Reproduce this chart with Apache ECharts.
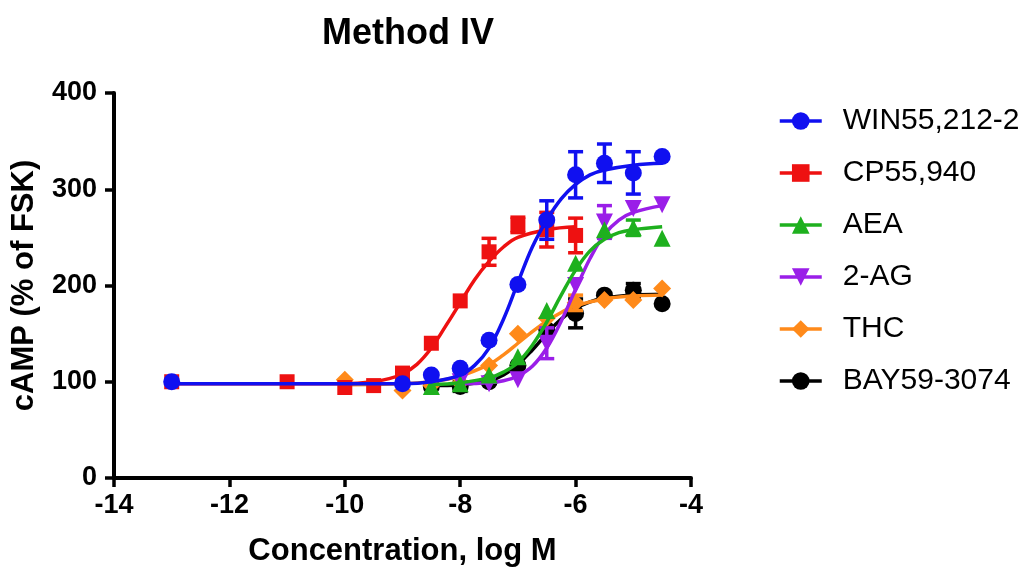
<!DOCTYPE html>
<html>
<head>
<meta charset="utf-8">
<script src="https://cdn.jsdelivr.net/npm/echarts@6/dist/echarts.min.js"></script>
<style>
  html, body { margin: 0; padding: 0; background: #fff; }
  #chart { width: 1032px; height: 572px; }
</style>
</head>
<body>
<div id="chart"></div>
<script>
// measured points (log M, % of FSK) and SEM
var names = ['WIN55,212-2', 'CP55,940', 'AEA', '2-AG', 'THC', 'BAY59-3074'];
var colors = ['#1010f0', '#ee1111', '#1eb01e', '#9a1ee8', '#ff8a1a', '#000000'];
var symbols = ['circle', 'rect', 'triangle', 'triangle', 'diamond', 'circle'];

var xWIN = [-13, -9, -8.5, -8, -7.5, -7, -6.5, -6, -5.5, -5, -4.5];
var yWIN = [100, 98, 107, 114, 143, 201, 268, 315, 327, 317, 334];
var semWIN = [0, 0, 0, 0, 0, 0, 20, 24, 20, 22, 0];

var xCP = [-13, -11, -10, -9.5, -9, -8.5, -8, -7.5, -7, -6.5, -6];
var yCP = [100, 100, 94, 96, 109, 140, 184, 235, 263, 258, 252];
var semCP = [0, 0, 0, 0, 0, 0, 0, 14, 8, 18, 18];

var xAEA = [-8.5, -8, -7.5, -7, -6.5, -6, -5.5, -5, -4.5];
var yAEA = [95, 98, 107, 126, 174, 223, 258, 260, 249];
var semAEA = [0, 0, 0, 0, 0, 0, 0, 8, 0];

var x2AG = [-8, -7.5, -7, -6.5, -6, -5.5, -5, -4.5];
var y2AG = [100, 98, 102, 140, 200, 266, 280, 284];
var sem2AG = [0, 0, 0, 16, 0, 17, 0, 0];

var xTHC = [-10, -9, -8.5, -8, -7.5, -7, -6.5, -6, -5.5, -5, -4.5];
var yTHC = [102, 91, 96, 99, 117, 150, 166, 182, 185, 185, 197];
var semTHC = [0, 0, 0, 0, 0, 0, 0, 8, 0, 0, 0];

var xBAY = [-8.5, -8, -7.5, -7, -6.5, -6, -5.5, -5, -4.5];
var yBAY = [95, 95, 100, 117, 154, 171, 190, 195, 181];
var semBAY = [0, 5, 0, 0, 0, 15, 0, 7, 0];

// fitted curves
var cxWIN = [-13, -9, -8.5, -8, -7.75, -7.5, -7.25, -7, -6.75, -6.5, -6.25, -6, -5.75, -5.5, -5, -4.5];
var cyWIN = [98, 98, 100, 107, 117, 135, 165, 203, 240, 268, 290, 305, 315, 320, 325, 327];
var cxCP = [-13, -10, -9.5, -9.25, -9, -8.75, -8.5, -8.25, -8, -7.75, -7.5, -7.25, -7, -6.5, -6];
var cyCP = [98, 98, 100, 103, 108, 118, 135, 158, 182, 206, 225, 240, 250, 258, 261];
var cxAEA = [-8.5, -8, -7.5, -7.25, -7, -6.75, -6.5, -6.25, -6, -5.75, -5.5, -5.25, -5, -4.5];
var cyAEA = [97, 99, 104, 110, 120, 138, 162, 190, 216, 236, 248, 255, 258, 261];
var cx2AG = [-8, -7.5, -7.25, -7, -6.75, -6.5, -6.25, -6, -5.75, -5.5, -5.25, -5, -4.5];
var cy2AG = [98, 99, 101, 106, 116, 135, 163, 196, 228, 253, 268, 276, 283];
var cxTHC = [-10, -9, -8.5, -8, -7.5, -7.25, -7, -6.75, -6.5, -6.25, -6, -5.5, -5, -4.5];
var cyTHC = [97, 98, 100, 106, 118, 128, 140, 152, 163, 172, 179, 186, 189, 190];
var cxBAY = [-8.5, -8, -7.5, -7.25, -7, -6.75, -6.5, -6.25, -6, -5.75, -5.5, -5, -4.5];
var cyBAY = [96, 97, 101, 107, 118, 133, 150, 165, 176, 183, 187, 190, 191];

var pointX = [xWIN, xCP, xAEA, x2AG, xTHC, xBAY];
var pointY = [yWIN, yCP, yAEA, y2AG, yTHC, yBAY];
var pointSem = [semWIN, semCP, semAEA, sem2AG, semTHC, semBAY];
var curveX = [cxWIN, cxCP, cxAEA, cx2AG, cxTHC, cxBAY];
var curveY = [cyWIN, cyCP, cyAEA, cy2AG, cyTHC, cyBAY];
var symbolSizes = [17, 15, 17, 17, 18, 17];

var font = '"Liberation Sans", Arial, sans-serif';

function zip(a, b) {
    return a.map(function (v, i) { return [v, b[i]]; });
}

var series = [];
names.forEach(function (name, i) {
    series.push({
        name: name,
        type: 'line',
        data: zip(curveX[i], curveY[i]),
        smooth: 0.4,
        showSymbol: false,
        symbol: symbols[i],
        symbolRotate: i === 3 ? 180 : 0,
        symbolSize: symbolSizes[i],
        lineStyle: { color: colors[i], width: 3.5 },
        itemStyle: { color: colors[i] },
        z: 20 - i * 2
    });
});
names.forEach(function (name, i) {
    var z = 20 - i * 2;
    var errData = [];
    pointX[i].forEach(function (x, k) {
        if (pointSem[i][k] > 0) {
            errData.push([x, pointY[i][k] - pointSem[i][k], pointY[i][k] + pointSem[i][k]]);
        }
    });
    series.push({
        name: name + ' sem',
        type: 'custom',
        data: errData,
        encode: { x: 0, y: [1, 2] },
        renderItem: function (params, api) {
            var x = api.value(0);
            var lo = api.coord([x, api.value(1)]);
            var hi = api.coord([x, api.value(2)]);
            var w = 7.5;
            var st = { stroke: colors[i], lineWidth: 3.5 };
            return {
                type: 'group',
                children: [
                    { type: 'line', shape: { x1: lo[0], y1: lo[1], x2: hi[0], y2: hi[1] }, style: st },
                    { type: 'line', shape: { x1: lo[0] - w, y1: lo[1], x2: lo[0] + w, y2: lo[1] }, style: st },
                    { type: 'line', shape: { x1: hi[0] - w, y1: hi[1], x2: hi[0] + w, y2: hi[1] }, style: st }
                ]
            };
        },
        z: z + 1
    });
    series.push({
        name: name,
        type: 'scatter',
        data: zip(pointX[i], pointY[i]),
        symbol: symbols[i],
        symbolRotate: i === 3 ? 180 : 0,
        symbolSize: symbolSizes[i],
        itemStyle: { color: colors[i], opacity: 1 },
        z: z + 1
    });
});

var chart = echarts.init(document.getElementById('chart'));
var option = {
    animation: false,
    backgroundColor: '#fff',
    title: {
        text: 'Method IV',
        left: 403,
        top: 11,
        textAlign: 'center',
        textStyle: { fontFamily: font, fontSize: 36, fontWeight: 'bold', color: '#000' }
    },
    legend: {
        orient: 'vertical',
        left: 773,
        top: 100,
        itemWidth: 42,
        itemHeight: 22,
        itemGap: 20,
        data: names,
        lineStyle: { width: 3.5 },
        textStyle: { fontFamily: font, fontSize: 30, color: '#000', lineHeight: 32, padding: [0, 0, 0, 16] }
    },
    grid: { left: 114, right: 341, top: 93, bottom: 94, containLabel: false },
    xAxis: {
        type: 'value',
        min: -14,
        max: -4,
        interval: 2,
        name: 'Concentration, log M',
        nameLocation: 'middle',
        nameGap: 58,
        nameTextStyle: { fontFamily: font, fontSize: 31, fontWeight: 'bold', color: '#000' },
        axisLine: { onZero: false, lineStyle: { color: '#000', width: 4 } },
        axisTick: { length: 9, lineStyle: { color: '#000', width: 3.5 } },
        axisLabel: { margin: 14, fontFamily: font, fontSize: 27, fontWeight: 'bold', color: '#000' },
        splitLine: { show: false }
    },
    yAxis: {
        type: 'value',
        min: 0,
        max: 400,
        interval: 100,
        name: 'cAMP (% of FSK)',
        nameLocation: 'middle',
        nameGap: 74,
        nameTextStyle: { fontFamily: font, fontSize: 31, fontWeight: 'bold', color: '#000' },
        axisLine: { show: true, lineStyle: { color: '#000', width: 4 } },
        axisTick: { show: true, length: 9, lineStyle: { color: '#000', width: 3.5 } },
        axisLabel: { margin: 17, fontFamily: font, fontSize: 27, fontWeight: 'bold', color: '#000' },
        splitLine: { show: false }
    },
    series: series
};
chart.setOption(option);
window.addEventListener('resize', chart.resize);
</script>
</body>
</html>
